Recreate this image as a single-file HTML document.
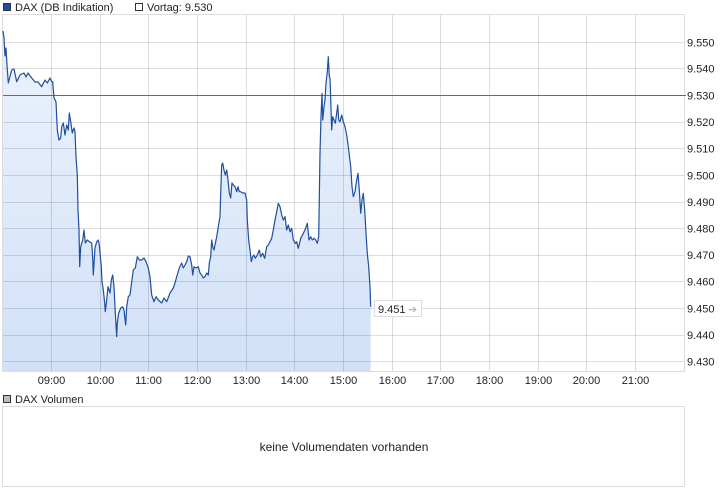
<!DOCTYPE html>
<html><head><meta charset="utf-8"><style>
html,body{margin:0;padding:0;background:#fff;}
svg{display:block;font-family:"Liberation Sans",Arial,sans-serif;}
</style></head><body>
<svg width="726" height="496" viewBox="0 0 726 496" xmlns="http://www.w3.org/2000/svg">
<defs>
<linearGradient id="fg" gradientUnits="userSpaceOnUse" x1="0" y1="15" x2="0" y2="371">
<stop offset="0" stop-color="#edf3fd"/>
<stop offset="1" stop-color="#d2e1f8"/>
</linearGradient>
</defs>
<!-- legend -->
<rect x="3.5" y="3.5" width="7" height="7" fill="#1e4fa0" stroke="#333" stroke-width="1"/>
<text x="15" y="11" font-size="11" fill="#222">DAX (DB Indikation)</text>
<rect x="135.5" y="3.5" width="7" height="7" fill="#fff" stroke="#333" stroke-width="1"/>
<text x="147" y="11" font-size="11" fill="#222">Vortag: 9.530</text>

<!-- fill -->
<polygon fill="url(#fg)" points="3,31 4,38 5,56 6,48 7,65 8.3,83 11.7,70 14,69 16.7,81.7 20,75 24,73 26,77 28,73 31.7,78 35,82 38,82 41.7,86.7 45,80 47.3,83 50,78 51.7,81.7 52.7,81.7 54,98 56,101.7 57.3,130 59,140 60.7,138 61.7,126.7 63.3,123 65,135 66.7,125 68.3,130 69.3,113 70.7,121.7 72.3,133 74,128 75,131.7 76,156.7 77.3,175 78,210 79,230 79.7,266.7 80.7,246.7 82.7,240 84,230 85.3,243 87.3,240 89.3,241.7 91.7,243 92.7,258 93.3,275 95,248 96.7,241.7 98.3,240 99.3,245 101.3,266.7 102,281.7 103.3,290 104.7,303 105.3,311.7 106.7,300 108,286.7 110,293 111.3,280 112.7,275 114,286.7 115.3,313 116.7,336.7 117.3,323 118.7,313 120.7,308 122.7,306.7 124,310 125.7,325 126.7,306.7 128.3,296.7 130,295 131.7,281.7 133.3,270 135.3,268 137.3,256.7 139.3,260 141.7,260 144,258 146,261.7 148.3,268 150,276.7 151.7,295 154,301.7 156,296.7 158.3,300 161.7,303 164,298 166.7,301.7 170,293 173.3,288 175,283 176.7,276.7 179.3,268 181.7,263 183.3,268 185,265 186.7,261.7 188.3,256 190,256.7 191.7,265 192.7,275 194,266.7 196,268 198.3,266.7 200,273 201.7,275 203.3,278 205,276.7 206.7,273 208.3,275 209.3,263 210.7,256.7 211.7,240 212.7,246.7 214,250 215,245 216.7,236.7 218.3,226.7 220,216.7 220.7,193 221.7,165 222.7,163 224,170 225.3,175 226.7,170 228,180 229.3,193 230.7,198 232,183 233.3,185 235,186.7 236.7,191.7 238,186.7 239.3,191.7 240.7,191.7 242.7,193 245,193 246.7,200 247.3,220 248.7,240 250,250 251.3,261.7 252.7,256.7 254,255 255.3,258.3 257.3,255 259.3,250 260.7,256.7 262.7,253.3 264.7,258.3 266.7,246.7 268.3,245 270,241.7 271.7,238.3 273.3,230 275,220 276.7,211.7 278.3,203.3 280,206.7 281.7,215 283.3,220 285,216.7 286.7,230 288.3,225 290,231.7 291.7,228.3 293.3,240 295.3,243.3 296.7,241.7 298.3,248.3 300.7,238.3 303.3,233.3 305,230 307.3,223.3 309,240 310.7,236.7 312.3,240 314,238.3 315.7,240 317.3,243.3 318.7,236.7 320,153.3 321,116.7 322,93.3 322.7,120 324,106.7 325,100 326,83.3 327.3,71.7 328.3,56.7 329.3,76.7 330,78.3 330.7,98.3 331.7,130 332.7,116.7 334,120 335.3,123.3 336.7,113.3 337.7,105 338.7,120 340,121.7 341.7,115 343.3,121.7 345,126.7 346.7,135 348.3,146.7 349.3,155 350.7,166.7 352,186.7 353.3,196.7 355,191.7 356.7,180 358,173.3 359.3,190 360.7,213.3 362,200 363.3,193.3 364.7,210 366,233.3 367.3,253.3 368.7,266.7 370,286.7 370.7,306.7 370.7,371 3,371"/>

<!-- grid -->
<g stroke="rgba(0,0,0,0.13)" stroke-width="1" fill="none">
<path d="M51.5 15V371M100.5 15V371M148.5 15V371M197.5 15V371M246.5 15V371M294.5 15V371M343.5 15V371M392.5 15V371M440.5 15V371M489.5 15V371M538.5 15V371M586.5 15V371M635.5 15V371"/>
<path d="M3 42.5H684M3 68.5H684M3 122.5H684M3 148.5H684M3 175.5H684M3 202.5H684M3 228.5H684M3 255.5H684M3 281.5H684M3 308.5H684M3 335.5H684M3 361.5H684"/>
</g>
<rect x="2.5" y="14.5" width="682" height="357" fill="none" stroke="#dcdcdc" stroke-width="1"/>

<!-- Vortag line -->
<path d="M3 95.5H686" stroke="#6a6a6a" stroke-width="1"/>

<!-- price line -->
<polyline fill="none" stroke="#1f4f9e" stroke-width="1.2" stroke-linejoin="round" points="3,31 4,38 5,56 6,48 7,65 8.3,83 11.7,70 14,69 16.7,81.7 20,75 24,73 26,77 28,73 31.7,78 35,82 38,82 41.7,86.7 45,80 47.3,83 50,78 51.7,81.7 52.7,81.7 54,98 56,101.7 57.3,130 59,140 60.7,138 61.7,126.7 63.3,123 65,135 66.7,125 68.3,130 69.3,113 70.7,121.7 72.3,133 74,128 75,131.7 76,156.7 77.3,175 78,210 79,230 79.7,266.7 80.7,246.7 82.7,240 84,230 85.3,243 87.3,240 89.3,241.7 91.7,243 92.7,258 93.3,275 95,248 96.7,241.7 98.3,240 99.3,245 101.3,266.7 102,281.7 103.3,290 104.7,303 105.3,311.7 106.7,300 108,286.7 110,293 111.3,280 112.7,275 114,286.7 115.3,313 116.7,336.7 117.3,323 118.7,313 120.7,308 122.7,306.7 124,310 125.7,325 126.7,306.7 128.3,296.7 130,295 131.7,281.7 133.3,270 135.3,268 137.3,256.7 139.3,260 141.7,260 144,258 146,261.7 148.3,268 150,276.7 151.7,295 154,301.7 156,296.7 158.3,300 161.7,303 164,298 166.7,301.7 170,293 173.3,288 175,283 176.7,276.7 179.3,268 181.7,263 183.3,268 185,265 186.7,261.7 188.3,256 190,256.7 191.7,265 192.7,275 194,266.7 196,268 198.3,266.7 200,273 201.7,275 203.3,278 205,276.7 206.7,273 208.3,275 209.3,263 210.7,256.7 211.7,240 212.7,246.7 214,250 215,245 216.7,236.7 218.3,226.7 220,216.7 220.7,193 221.7,165 222.7,163 224,170 225.3,175 226.7,170 228,180 229.3,193 230.7,198 232,183 233.3,185 235,186.7 236.7,191.7 238,186.7 239.3,191.7 240.7,191.7 242.7,193 245,193 246.7,200 247.3,220 248.7,240 250,250 251.3,261.7 252.7,256.7 254,255 255.3,258.3 257.3,255 259.3,250 260.7,256.7 262.7,253.3 264.7,258.3 266.7,246.7 268.3,245 270,241.7 271.7,238.3 273.3,230 275,220 276.7,211.7 278.3,203.3 280,206.7 281.7,215 283.3,220 285,216.7 286.7,230 288.3,225 290,231.7 291.7,228.3 293.3,240 295.3,243.3 296.7,241.7 298.3,248.3 300.7,238.3 303.3,233.3 305,230 307.3,223.3 309,240 310.7,236.7 312.3,240 314,238.3 315.7,240 317.3,243.3 318.7,236.7 320,153.3 321,116.7 322,93.3 322.7,120 324,106.7 325,100 326,83.3 327.3,71.7 328.3,56.7 329.3,76.7 330,78.3 330.7,98.3 331.7,130 332.7,116.7 334,120 335.3,123.3 336.7,113.3 337.7,105 338.7,120 340,121.7 341.7,115 343.3,121.7 345,126.7 346.7,135 348.3,146.7 349.3,155 350.7,166.7 352,186.7 353.3,196.7 355,191.7 356.7,180 358,173.3 359.3,190 360.7,213.3 362,200 363.3,193.3 364.7,210 366,233.3 367.3,253.3 368.7,266.7 370,286.7 370.7,306.7"/>

<!-- last price label -->
<rect x="374.5" y="300.5" width="47" height="16" fill="#fff" stroke="#dcdcdc" stroke-width="1"/>
<text x="378" y="313" font-size="11" fill="#222">9.451</text>
<text x="408" y="313" font-size="11" fill="#bbb">➜</text>

<!-- y labels -->
<g font-size="11" fill="#222">
<text x="687" y="46.5">9.550</text>
<text x="687" y="72.5">9.540</text>
<text x="687" y="99.5">9.530</text>
<text x="687" y="126">9.520</text>
<text x="687" y="152.5">9.510</text>
<text x="687" y="179.5">9.500</text>
<text x="687" y="206">9.490</text>
<text x="687" y="232.5">9.480</text>
<text x="687" y="259">9.470</text>
<text x="687" y="285.5">9.460</text>
<text x="687" y="312.5">9.450</text>
<text x="687" y="339">9.440</text>
<text x="687" y="365.5">9.430</text>
</g>

<!-- x labels -->
<g font-size="11" fill="#222" text-anchor="middle">
<text x="51.5" y="384">09:00</text>
<text x="100.5" y="384">10:00</text>
<text x="148.5" y="384">11:00</text>
<text x="197.5" y="384">12:00</text>
<text x="246.5" y="384">13:00</text>
<text x="294.5" y="384">14:00</text>
<text x="343.5" y="384">15:00</text>
<text x="392.5" y="384">16:00</text>
<text x="440.5" y="384">17:00</text>
<text x="489.5" y="384">18:00</text>
<text x="538.5" y="384">19:00</text>
<text x="586.5" y="384">20:00</text>
<text x="635.5" y="384">21:00</text>
</g>

<!-- volume -->
<rect x="3.5" y="395.5" width="7" height="7" fill="#bdbdbd" stroke="#333" stroke-width="1"/>
<text x="15" y="403" font-size="11" fill="#222">DAX Volumen</text>
<rect x="2.5" y="406.5" width="682" height="80" fill="#fff" stroke="#dcdcdc" stroke-width="1"/>
<text x="344" y="451" font-size="12" fill="#222" text-anchor="middle">keine Volumendaten vorhanden</text>
</svg>
</body></html>
